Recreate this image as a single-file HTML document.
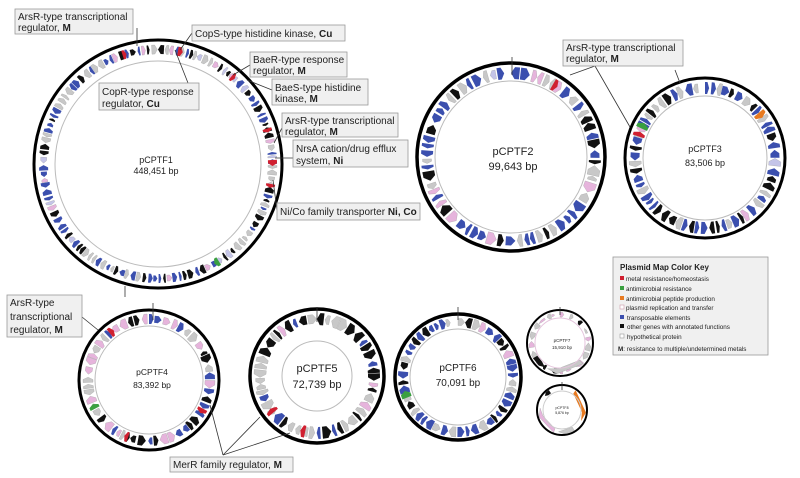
<!DOCTYPE html>
<html><head><meta charset="utf-8"><style>
html,body{margin:0;padding:0;background:#fff;}
svg{display:block;font-family:"Liberation Sans",sans-serif;}
</style></head><body>
<svg id="s" width="800" height="478" viewBox="0 0 800 478" xmlns="http://www.w3.org/2000/svg">
<g id="genes"></g>
<g fill="none">
<circle cx="158" cy="164" r="124" stroke="#000" stroke-width="3"/>
<circle cx="158" cy="164" r="103" stroke="#bbb" stroke-width="1"/>
<circle cx="511" cy="157" r="94" stroke="#000" stroke-width="3.5"/>
<circle cx="511" cy="157" r="76" stroke="#bbb" stroke-width="1"/>
<circle cx="705" cy="158" r="80" stroke="#000" stroke-width="3"/>
<circle cx="705" cy="158" r="62" stroke="#bbb" stroke-width="1"/>
<circle cx="149" cy="380" r="70" stroke="#000" stroke-width="3"/>
<circle cx="149" cy="380" r="54" stroke="#bbb" stroke-width="1"/>
<circle cx="317" cy="376" r="67" stroke="#000" stroke-width="3.5"/>
<circle cx="317" cy="376" r="35" stroke="#bbb" stroke-width="1"/>
<circle cx="458" cy="377" r="63" stroke="#000" stroke-width="3.5"/>
<circle cx="458" cy="377" r="48" stroke="#bbb" stroke-width="1"/>
<circle cx="560" cy="343" r="33" stroke="#000" stroke-width="2"/>
<circle cx="560" cy="343" r="25" stroke="#e4c4dc" stroke-width="1"/>
<circle cx="562" cy="410" r="25" stroke="#000" stroke-width="2"/>
<circle cx="562" cy="410" r="19" stroke="#ccc" stroke-width="1"/>
</g>
<g stroke="#333" stroke-width="0.8" fill="none">
<line x1="137" y1="28" x2="137" y2="46"/>
<line x1="192" y1="33" x2="180" y2="50"/>
<line x1="188" y1="83" x2="175" y2="50"/>
<line x1="250" y1="65" x2="233" y2="75"/>
<line x1="272" y1="90" x2="247" y2="80"/>
<line x1="282" y1="128" x2="274" y2="143"/>
<line x1="293" y1="158" x2="275" y2="158"/>
<line x1="277" y1="210" x2="273" y2="180"/>
<line x1="125" y1="286" x2="125" y2="297"/>
<line x1="595" y1="66" x2="570" y2="75"/>
<line x1="595" y1="66" x2="630" y2="127"/>
<line x1="512" y1="57" x2="512" y2="75"/>
<line x1="675" y1="70" x2="680" y2="83"/>
<line x1="82" y1="317" x2="98" y2="330"/>
<line x1="223" y1="455" x2="210" y2="405"/>
<line x1="223" y1="455" x2="260" y2="417"/>
<line x1="223" y1="455" x2="290" y2="433"/>
<line x1="153" y1="303" x2="153" y2="320"/>
<line x1="317" y1="307" x2="317" y2="322"/>
<line x1="458" y1="307" x2="458" y2="320"/>
<line x1="560" y1="307" x2="560" y2="315"/>
<line x1="562" y1="382" x2="562" y2="390"/>
</g>
<g fill="#f0f0f0" stroke="#999" stroke-width="0.8">
<rect x="15" y="9" width="118" height="25"/>
<rect x="192" y="25" width="153" height="16"/>
<rect x="99" y="83" width="100" height="27"/>
<rect x="250" y="52" width="97" height="25"/>
<rect x="272" y="79" width="96" height="26"/>
<rect x="282" y="113" width="116" height="24"/>
<rect x="293" y="140" width="115" height="27"/>
<rect x="277" y="203" width="143" height="17"/>
<rect x="563" y="40" width="120" height="26"/>
<rect x="7" y="295" width="75" height="42"/>
<rect x="170" y="457" width="123" height="15"/>
<rect x="613" y="257" width="155" height="98"/>
</g>
<g font-size="10" fill="#222">
<text x="18" y="20">ArsR-type transcriptional</text><text x="18" y="31">regulator, <tspan font-weight="bold">M</tspan></text>
<text x="195" y="37">CopS-type histidine kinase, <tspan font-weight="bold">Cu</tspan></text>
<text x="102" y="95">CopR-type response</text><text x="102" y="107">regulator, <tspan font-weight="bold">Cu</tspan></text>
<text x="253" y="63">BaeR-type response</text><text x="253" y="74">regulator, <tspan font-weight="bold">M</tspan></text>
<text x="275" y="91">BaeS-type histidine</text><text x="275" y="102">kinase, <tspan font-weight="bold">M</tspan></text>
<text x="285" y="124">ArsR-type transcriptional</text><text x="285" y="135">regulator, <tspan font-weight="bold">M</tspan></text>
<text x="296" y="152">NrsA cation/drug efflux</text><text x="296" y="164">system, <tspan font-weight="bold">Ni</tspan></text>
<text x="280" y="215">Ni/Co family transporter <tspan font-weight="bold">Ni, Co</tspan></text>
<text x="566" y="51">ArsR-type transcriptional</text><text x="566" y="62">regulator, <tspan font-weight="bold">M</tspan></text>
<text x="10" y="306">ArsR-type</text><text x="10" y="320">transcriptional</text><text x="10" y="333">regulator, <tspan font-weight="bold">M</tspan></text>
<text x="173" y="468">MerR family regulator, <tspan font-weight="bold">M</tspan></text>
</g>
<g text-anchor="middle" fill="#222">
<text x="156" y="163" font-size="9">pCPTF1</text><text x="156" y="174" font-size="9">448,451 bp</text>
<text x="513" y="155" font-size="11">pCPTF2</text><text x="513" y="170" font-size="11">99,643 bp</text>
<text x="705" y="152" font-size="9">pCPTF3</text><text x="705" y="166" font-size="9">83,506 bp</text>
<text x="152" y="375" font-size="8.5">pCPTF4</text><text x="152" y="388" font-size="8.5">83,392 bp</text>
<text x="317" y="372" font-size="11">pCPTF5</text><text x="317" y="388" font-size="11">72,739 bp</text>
<text x="458" y="371" font-size="10">pCPTF6</text><text x="458" y="386" font-size="10">70,091 bp</text>
<text x="562" y="342" font-size="4.5">pCPTF7</text><text x="562" y="349" font-size="4.5">15,910 bp</text>
<text x="562" y="409" font-size="3.5">pCPTF8</text><text x="562" y="414" font-size="3.5">5,876 bp</text>
</g>
<g font-size="6.3" fill="#222">
<text x="620" y="270" font-size="8" font-weight="bold">Plasmid Map Color Key</text>
<rect x="620" y="276" width="4" height="4" fill="#d02030"/><text x="626" y="281">metal resistance/homeostasis</text>
<rect x="620" y="286" width="4" height="4" fill="#3aa040"/><text x="626" y="291">antimicrobial resistance</text>
<rect x="620" y="296" width="4" height="4" fill="#e87a20"/><text x="626" y="301">antimicrobial peptide production</text>
<rect x="620" y="305" width="4" height="4" fill="#fff" stroke="#c9a" stroke-width="0.6"/><text x="626" y="310">plasmid replication and transfer</text>
<rect x="620" y="315" width="4" height="4" fill="#3b4fae"/><text x="627" y="320">transposable elements</text>
<rect x="620" y="324" width="4" height="4" fill="#111"/><text x="627" y="329">other genes with annotated functions</text>
<rect x="620" y="334" width="4" height="4" fill="#fff" stroke="#999" stroke-width="0.6"/><text x="627" y="339">hypothetical protein</text>
<text x="618" y="351"><tspan font-weight="bold">M</tspan>: resistance to multiple/undetermined metals</text>
</g>
</svg>
<script>
(function(){
var seed=12345;function rnd(){seed|=0;seed=seed+0x6D2B79F5|0;var t=Math.imul(seed^seed>>>15,1|seed);t=t+Math.imul(t^t>>>7,61|t)^t;return((t^t>>>14)>>>0)/4294967296;}
var C={b:"#3b4fae",k:"#111",g:"#c8c8c8",p:"#e6b4dc",l:"#c4c4e8",r:"#d02030",n:"#3aa040",o:"#e87a20"};
function pick(w){var s=0,k;for(k in w)s+=w[k];var x=rnd()*s;for(k in w){x-=w[k];if(x<=0)return k;}return "g";}
var g=document.getElementById("genes"),out="";
function gene(cx,cy,r1,r2,a0,a1,dir,col){
 var tipL=Math.min((a1-a0)*0.45,3/r2*1.0+ (a1-a0)*0.2);
 var rm=(r1+r2)/2,pts=[];
 function P(r,a){return (cx+r*Math.sin(a)).toFixed(1)+","+(cy-r*Math.cos(a)).toFixed(1);}
 if(dir>0){var b=a1-tipL;pts=[P(r1,a0),P(r2,a0),P(r2,b),P(rm,a1),P(r1,b)];}
 else{var b2=a0+tipL;pts=[P(rm,a0),P(r2,b2),P(r2,a1),P(r1,a1),P(r1,b2)];}
 out+='<polygon points="'+pts.join(" ")+'" fill="'+C[col]+'" stroke="'+(col=="g"||col=="p"||col=="l"?"#999":"none")+'" stroke-width="0.3"/>';
}
function ring(cx,cy,r1,r2,w,minL,maxL,gapMax){
 var a=0,R=(r1+r2)/2;
 while(a<Math.PI*2-0.02){
  var L=(minL+rnd()*(maxL-minL))/R, gap=(0.4+rnd()*gapMax)/R;
  if(a+L>Math.PI*2)break;
  var col=pick(w);var inset=rnd()<0.3?1.5:0;
  gene(cx,cy,r1+inset,r2-inset,a,a+L,rnd()<0.5?1:-1,col);
  a+=L+gap;
 }
}
ring(158,164,110,119,{b:5,k:4,g:3,p:1,l:1},2.5,6,1.8);
ring(511,157,78,90,{b:5,k:2,g:4,p:1,l:0.5},4,10,2.5);
ring(705,158,64,76,{b:5,k:2,g:3,p:0.6,l:0.4},3.5,8,2);
ring(149,380,56,66,{b:2,k:3,g:3,p:3},3.5,8,2.5);
ring(317,376,51,63,{b:2,k:4,g:5,p:0.5},3.5,9,2);
ring(458,377,50,60,{b:5,k:4,g:2,p:0.5,l:0.5},3.5,8,1.5);
ring(560,343,26,31,{g:3,k:1,p:3},3,8,6);
function spot(cx,cy,r1,r2,deg,len,col){var a=deg*Math.PI/180;gene(cx,cy,r1,r2,a,a+len/((r1+r2)/2),1,col);}
spot(158,164,110,119,-18,4,"r");spot(158,164,110,119,10,5,"r");spot(158,164,110,119,40,4,"r");
spot(158,164,110,119,72,4,"r");spot(158,164,110,119,88,6,"r");spot(158,164,110,119,100,4,"r");spot(158,164,110,119,148,5,"n");
spot(511,157,78,90,30,5,"r");spot(705,158,64,76,-65,6,"n");spot(705,158,64,76,50,6,"o");spot(705,158,64,76,-72,5,"r");
spot(149,380,56,66,-40,5,"r");spot(149,380,56,66,118,5,"r");spot(149,380,56,66,-118,5,"n");spot(149,380,56,66,-160,4,"r");
spot(317,376,51,63,-130,5,"r");spot(317,376,51,63,-168,5,"r");spot(458,377,50,60,-112,7,"n");
(function(){gene(560,343,26,31,2.3,3.6,1,"g");gene(560,343,26,31,3.7,4.2,-1,"k");})();
gene(562,410,20,24,0.6,2.1,1,"o");gene(562,410,20,24,3.5,4.8,1,"p");gene(562,410,20,24,2.6,3.3,1,"g");gene(562,410,20,24,5.4,5.7,-1,"k");
g.innerHTML=out;
})();
</script>
</body></html>
